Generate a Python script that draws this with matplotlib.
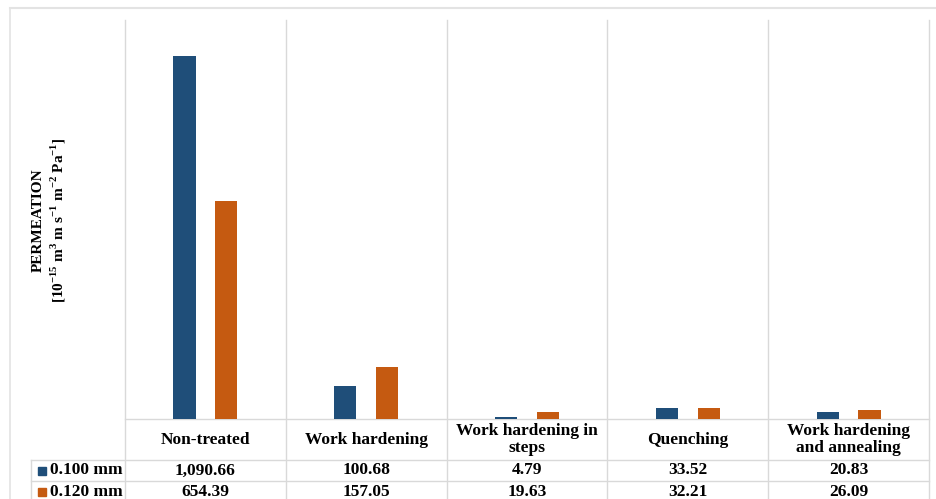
import numpy as np
import matplotlib
matplotlib.use("Agg")
import matplotlib.pyplot as plt
from matplotlib import transforms
from matplotlib.lines import Line2D

plt.rcParams['font.family'] = ['Liberation Serif', 'DejaVu Serif']
plt.rcParams['font.weight'] = 'bold'
plt.rcParams['mathtext.fontset'] = 'custom'
plt.rcParams['mathtext.rm'] = 'Liberation Serif:bold'
plt.rcParams['mathtext.bf'] = 'Liberation Serif:bold'

categories = ["Non-treated", "Work hardening", "Work hardening in\nsteps",
              "Quenching", "Work hardening\nand annealing"]
series_names = ["0.100 mm", "0.120 mm"]
thin_100 = [1090.66, 100.68, 4.79, 33.52, 20.83]
thin_120 = [654.39, 157.05, 19.63, 32.21, 26.09]
colors = ["#1F4E79", "#C55A11"]
grid_c = "#d9d9d9"

W, H = 937, 499
fig = plt.figure(figsize=(W / 100, H / 100), dpi=100)
ax = fig.add_axes([125 / W, 1 - 419 / H, 804 / W, 399 / H])

x = np.arange(len(categories))
bw = 0.137
off = 0.13
for vals, c, d in zip([thin_100, thin_120], colors, [-off, off]):
    ax.bar(x + d, vals, width=bw, color=c, zorder=3)

ax.set_xlim(-0.5, len(categories) - 0.5)
ax.set_ylim(0, 1200)
for s in ax.spines.values():
    s.set_visible(False)
ax.set_xticks([])
ax.set_yticks([])

# data table under the plot, x in category units, y in axes fraction
tr = transforms.blended_transform_factory(ax.transData, ax.transAxes)
tra = ax.transAxes
y_row1 = -41 / 399
y_row2 = -62 / 399
y_bot = -84 / 399
x_left = -94 / 804

line_kw = dict(color=grid_c, lw=1, clip_on=False, zorder=1)
for b in np.arange(len(categories) + 1) - 0.5:
    ax.plot([b, b], [1, y_bot], transform=tr, **line_kw)
ax.plot([0, 1], [0, 0], transform=tra, **line_kw)
for yy in [y_row1, y_row2, y_bot]:
    ax.plot([x_left, 1], [yy, yy], transform=tra, **line_kw)
ax.plot([x_left, x_left], [y_row1, y_bot], transform=tra, **line_kw)

fs = 12.5
for i, cat in enumerate(categories):
    ax.text(i, y_row1 / 2, cat, transform=tr, ha="center", va="center",
            fontsize=fs, linespacing=1.1)
    ax.text(i, (y_row1 + y_row2) / 2, f"{thin_100[i]:,.2f}", transform=tr,
            ha="center", va="center", fontsize=fs)
    ax.text(i, (y_row2 + y_bot) / 2, f"{thin_120[i]:,.2f}", transform=tr,
            ha="center", va="center", fontsize=fs)

for yy, name, c in [((y_row1 + y_row2) / 2, series_names[0], colors[0]),
                    ((y_row2 + y_bot) / 2, series_names[1], colors[1])]:
    ax.plot([-83 / 804], [yy], marker="s", ms=6, color=c, transform=tra,
            clip_on=False)
    ax.text(-75 / 804, yy, name, transform=tra, ha="left", va="center",
            fontsize=fs)

fig.text(50 / W, 1 - 220 / H,
         "PERMEATION\n[10$^{-15}$ m$^{3}$ m s$^{-1}$ m$^{-2}$ Pa$^{-1}$]",
         rotation=90, ha="center", va="center", fontsize=11,
         multialignment="center", linespacing=1.3)

# chart frame
fig.add_artist(Line2D([10 / W, 1], [1 - 8 / H, 1 - 8 / H], color="#e3e3e3", lw=1.5))
fig.add_artist(Line2D([10 / W, 10 / W], [0, 1 - 8 / H], color="#e3e3e3", lw=1.2))

fig.savefig("out.png", dpi=100)
